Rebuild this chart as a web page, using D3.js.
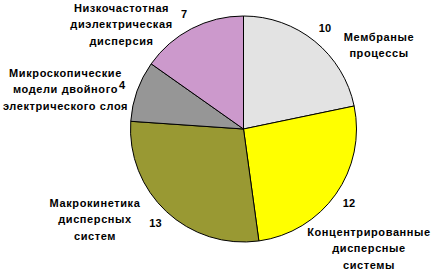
<!DOCTYPE html>
<html>
<head>
<meta charset="utf-8">
<script src="https://cdn.jsdelivr.net/npm/d3@7"></script>
<style>
  body { margin: 0; background: #fff; }
  text { font-family: "Liberation Sans", Arial, sans-serif; font-weight: bold; font-size: 11px; fill: #000; }
</style>
</head>
<body>
<div id="chart"></div>
<script>
// data
var categories = ["Мембраные\nпроцессы", "Концентрированные\nдисперсные\nсистемы", "Макрокинетика\nдисперсных\nсистем", "Микроскопические\nмодели двойного\nэлектрического слоя", "Низкочастотная\nдиэлектрическая\nдисперсия"];
var values = [10, 12, 13, 4, 7];
var colors = ["#E3E3E3", "#FFFF00", "#999933", "#969696", "#CC99CC"];

// layout: where the name block sits relative to the pie centre (centre x, first baseline)
var nameOffsets = [[135.5, -88], [125.5, 107], [-148.5, 78], [-178, -52], [-122, -117]];

var width = 437, height = 272;
var cx = 243.5, cy = 129, radius = 113;

var svg = d3.select("#chart").append("svg")
  .attr("width", width)
  .attr("height", height);

var pie = d3.pie().sort(null).value(function(d) { return d; });
var arcs = pie(values);

var arc = d3.arc().innerRadius(0).outerRadius(radius);
var labelArc = d3.arc().innerRadius(129).outerRadius(129);

var g = svg.append("g").attr("transform", "translate(" + cx + "," + cy + ")");

g.selectAll("path")
  .data(arcs)
  .enter()
  .append("path")
  .attr("d", arc)
  .attr("fill", function(d, i) { return colors[i]; })
  .attr("stroke", "#000")
  .attr("stroke-width", 1);

// value labels
g.selectAll("text.val")
  .data(arcs)
  .enter()
  .append("text")
  .attr("class", "val")
  .attr("text-anchor", "middle")
  .attr("dy", "0.3em")
  .attr("transform", function(d) { return "translate(" + labelArc.centroid(d) + ")"; })
  .text(function(d) { return d.data; });

// category names
var names = g.selectAll("text.name")
  .data(categories)
  .enter()
  .append("text")
  .attr("class", "name")
  .attr("text-anchor", "middle")
  .attr("letter-spacing", "0.6px")
  .attr("x", function(d, i) { return nameOffsets[i][0]; })
  .attr("y", function(d, i) { return nameOffsets[i][1]; });

names.each(function(d, i) {
  var t = d3.select(this);
  d.split("\n").forEach(function(line, j) {
    t.append("tspan")
      .attr("x", nameOffsets[i][0])
      .attr("dy", j === 0 ? 0 : 16.3)
      .text(line);
  });
});
</script>
</body>
</html>
